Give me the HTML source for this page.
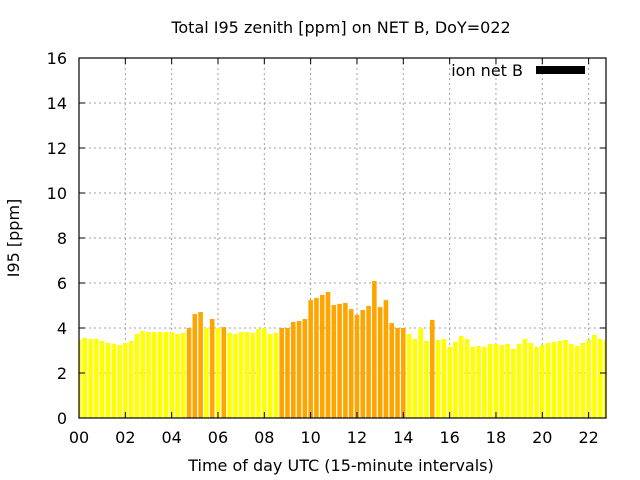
<!DOCTYPE html>
<html><head><meta charset="utf-8"><style>
body{margin:0;background:#fff}
svg{display:block;font-family:"DejaVu Sans","Liberation Sans",sans-serif}
</style></head><body>
<svg id="chart" width="640" height="480">
<text x="341" y="33" text-anchor="middle" font-size="16">Total I95 zenith [ppm] on NET B, DoY=022</text>
<text x="341" y="471" text-anchor="middle" font-size="16">Time of day UTC (15-minute intervals)</text>
<text transform="translate(19,238) rotate(-90)" text-anchor="middle" font-size="16">I95 [ppm]</text>
<g id="grid"></g>
<g id="bars"></g>
<g id="axes"></g>
<g>
<text x="523" y="76" text-anchor="end" font-size="16">ion net B</text>
<rect x="536" y="66" width="49" height="8" fill="#000"/>
</g>
</svg>
<script>
const values=[3.47,3.56,3.51,3.51,3.42,3.33,3.29,3.24,3.33,3.42,3.73,3.87,3.82,3.82,3.82,3.82,3.82,3.73,3.78,4.0,
4.62,4.71,4.0,4.4,4.0,4.04,3.78,3.73,3.82,3.82,3.78,3.96,4.0,3.73,3.78,4.0,4.0,4.27,4.31,4.4,
5.24,5.33,5.47,5.6,5.02,5.07,5.11,4.84,4.58,4.8,4.98,6.09,4.93,5.24,4.22,4.0,4.0,3.73,3.51,4.0,
3.42,4.36,3.47,3.51,3.16,3.38,3.64,3.51,3.16,3.2,3.16,3.29,3.29,3.24,3.29,3.07,3.29,3.51,3.33,3.16,
3.24,3.33,3.38,3.42,3.47,3.29,3.2,3.33,3.47,3.69,3.51,3.47];
const orangeIdx=[19,20,21,23,25,35,36,37,38,39,40,41,42,43,44,45,46,47,48,49,50,51,52,53,54,55,56,61];
const yTicks=[0,2,4,6,8,10,12,14,16];
const xTicks=[0,2,4,6,8,10,12,14,16,18,20,22];
const xTickLabels=["00","02","04","06","08","10","12","14","16","18","20","22"];
const NS="http://www.w3.org/2000/svg";
const L=79,R=606,T=58,B=418,step=0.25,tMax=22.75;
const xs=t=>L+t/tMax*(R-L);
const ys=v=>B-v/16*(B-T);
function mk(tag,at,parent){const e=document.createElementNS(NS,tag);for(const k in at)e.setAttribute(k,at[k]);parent.appendChild(e);return e;}
const grid=document.getElementById('grid'),bars=document.getElementById('bars'),axes=document.getElementById('axes');
yTicks.forEach(v=>{
 if(v>0&&v<16){const g=mk('line',{x1:L,x2:R,y1:ys(v),y2:ys(v),stroke:'#a0a0a0','stroke-width':1,'stroke-dasharray':'2,3'},grid);
 
 }
 const t1=mk('line',{x1:L,x2:L+6,y1:ys(v),y2:ys(v),stroke:'#000'},axes);
 
 
 const t2=mk('line',{x1:R-6,x2:R,y1:ys(v),y2:ys(v),stroke:'#000'},axes);
 
 
 const lb=mk('text',{x:L-12,y:ys(v)+6,'text-anchor':'end','font-size':16},axes);
 lb.textContent=v;
 
 
});
xTicks.forEach((t,i)=>{
 const x=xs(t);
 if(t>0){const g=mk('line',{x1:x,x2:x,y1:T,y2:B,stroke:'#a0a0a0','stroke-width':1,'stroke-dasharray':'2,3'},grid);
 
 }
 const t1=mk('line',{x1:x,x2:x,y1:B,y2:B-6,stroke:'#000'},axes);
 
 
 const t2=mk('line',{x1:x,x2:x,y1:T,y2:T+6,stroke:'#000'},axes);
 
 
 const lb=mk('text',{x:x,y:B+25,'text-anchor':'middle','font-size':16},axes);
 lb.textContent=xTickLabels[i];
 
 
});
const bw=4.6;
values.forEach((v,i)=>{
 const xc=xs(i*step);
 let x0=Math.max(L,xc-bw/2),x1=Math.min(R,xc+bw/2);
 const r=mk('rect',{x:x0,y:ys(v),width:x1-x0,height:B-ys(v),fill:orangeIdx.includes(i)?'#ffa500':'#ffff00'},bars);
 
 
});
const fr=mk('rect',{x:L,y:T,width:R-L,height:B-T,fill:'none',stroke:'#000','stroke-width':1.2},axes);


</script>
</body></html>
